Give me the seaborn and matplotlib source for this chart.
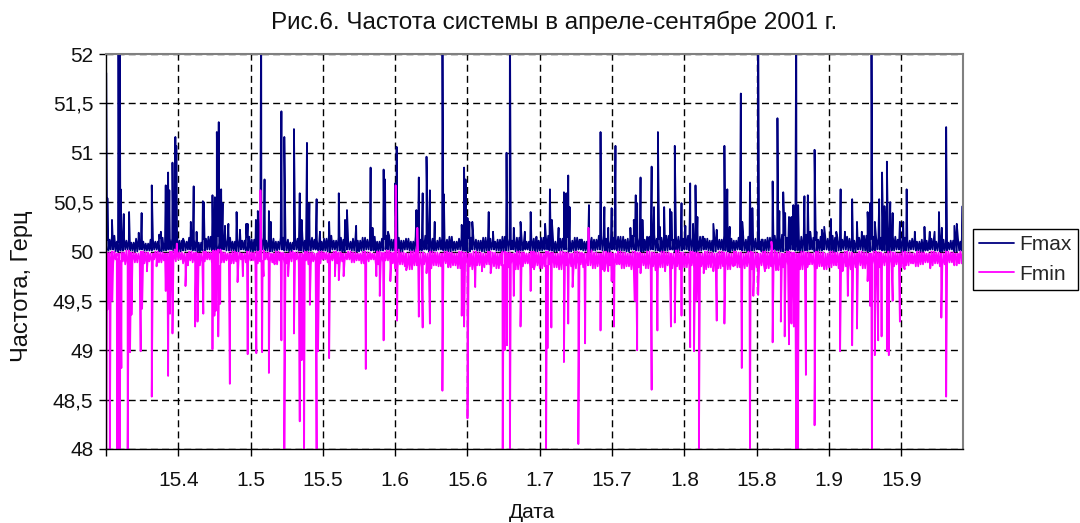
import numpy as np
import pandas as pd
import matplotlib
matplotlib.use("Agg")
import matplotlib.pyplot as plt
from matplotlib.lines import Line2D
import seaborn as sns

# ---- data: days counted from the start of the record (31 March 2001) ----
tick_days = [15, 30, 45, 60, 75, 90, 105, 120, 135, 150, 165]
tick_labels = ["15.4", "1.5", "15.5", "1.6", "15.6", "1.7",
               "15.7", "1.8", "15.8", "1.9", "15.9"]
y_ticks = [48, 48.5, 49, 49.5, 50, 50.5, 51, 51.5, 52]
y_tick_labels = ["48", "48,5", "49", "49,5", "50", "50,5", "51", "51,5", "52"]

# daily lower / upper edge of the Fmax band, Hz
fmax_lo = [
    50.01, 50.02, 50.00, 50.01, 50.02, 50.01, 50.00, 50.02, 50.01, 50.01,
    50.02, 50.00, 50.01, 50.02, 50.01, 50.00, 50.01, 50.02, 50.01, 50.00,
    50.01, 50.02, 50.01, 50.00, 50.02, 50.01, 50.01, 50.00, 50.02, 50.01,
    50.00, 50.01, 50.02, 50.01, 50.00, 50.01, 50.02, 50.01, 50.00, 50.02,
    50.01, 50.00, 50.01, 50.02, 50.01, 50.01, 50.00, 50.02, 50.01, 50.00,
    50.02, 50.01, 50.00, 50.01, 50.02, 50.01, 50.00, 50.01, 50.02, 50.01,
    50.01, 50.00, 50.02, 50.01, 50.00, 50.01, 50.02, 50.00, 50.01, 50.02,
    50.01, 50.00, 50.01, 50.02, 50.01, 50.00, 50.02, 50.01, 50.00, 50.01,
    50.02, 50.01, 50.00, 50.01, 50.02, 50.00, 50.01, 50.02, 50.01, 50.00,
    50.01, 50.02, 50.01, 50.00, 50.01, 50.02, 50.00, 50.01, 50.02, 50.01,
    50.00, 50.01, 50.02, 50.01, 50.00, 50.02, 50.01, 50.01, 50.00, 50.02,
    50.01, 50.00, 50.01, 50.02, 50.01, 50.00, 50.01, 50.02, 50.00, 50.01,
    50.02, 50.01, 50.00, 50.01, 50.02, 50.01, 50.00, 50.02, 50.01, 50.00,
    50.01, 50.02, 50.01, 50.00, 50.01, 50.02, 50.00, 50.01, 50.02, 50.01,
    50.00, 50.01, 50.02, 50.01, 50.00, 50.01, 50.02, 50.00, 50.01, 50.02,
    50.01, 50.00, 50.01, 50.02, 50.01, 50.00, 50.02, 50.01, 50.00, 50.01,
    50.02, 50.01, 50.00, 50.01, 50.02, 50.00, 50.01, 50.02, 50.01, 50.00,
    50.01, 50.02, 50.01, 50.00, 50.01, 50.02, 50.00, 50.01,
]
fmax_hi = [
    50.12, 50.16, 50.10, 50.14, 50.11, 50.09, 50.13, 50.10, 50.08, 50.12,
    50.10, 50.14, 50.09, 50.13, 50.16, 50.11, 50.10, 50.14, 50.12, 50.09,
    50.13, 50.15, 50.11, 50.16, 50.12, 50.14, 50.10, 50.13, 50.11, 50.15,
    50.12, 50.16, 50.14, 50.11, 50.13, 50.10, 50.14, 50.12, 50.09, 50.13,
    50.15, 50.11, 50.14, 50.12, 50.10, 50.13, 50.16, 50.11, 50.14, 50.12,
    50.10, 50.13, 50.11, 50.14, 50.12, 50.15, 50.10, 50.13, 50.16, 50.12,
    50.14, 50.11, 50.13, 50.10, 50.15, 50.12, 50.16, 50.13, 50.11, 50.14,
    50.12, 50.15, 50.10, 50.13, 50.16, 50.14, 50.12, 50.11, 50.14, 50.13,
    50.10, 50.12, 50.15, 50.13, 50.11, 50.14, 50.12, 50.10, 50.13, 50.11,
    50.14, 50.16, 50.12, 50.10, 50.13, 50.15, 50.11, 50.14, 50.12, 50.10,
    50.14, 50.12, 50.16, 50.13, 50.11, 50.14, 50.15, 50.12, 50.13, 50.16,
    50.14, 50.12, 50.15, 50.17, 50.13, 50.14, 50.16, 50.12, 50.15, 50.13,
    50.16, 50.14, 50.12, 50.15, 50.13, 50.11, 50.14, 50.12, 50.16, 50.13,
    50.11, 50.14, 50.12, 50.15, 50.13, 50.10, 50.12, 50.14, 50.16, 50.15,
    50.17, 50.14, 50.16, 50.13, 50.15, 50.17, 50.14, 50.12, 50.15, 50.13,
    50.16, 50.14, 50.12, 50.15, 50.13, 50.11, 50.14, 50.16, 50.13, 50.15,
    50.14, 50.16, 50.13, 50.15, 50.12, 50.14, 50.11, 50.13, 50.10, 50.12,
    50.11, 50.13, 50.10, 50.12, 50.09, 50.11, 50.13, 50.10,
]
# daily lower / upper edge of the Fmin band, Hz
fmin_lo = [
    49.91, 49.88, 49.92, 49.90, 49.87, 49.91, 49.89, 49.92, 49.88, 49.90,
    49.92, 49.89, 49.91, 49.87, 49.90, 49.92, 49.88, 49.91, 49.89, 49.86,
    49.90, 49.92, 49.88, 49.85, 49.89, 49.91, 49.88, 49.90, 49.92, 49.89,
    49.91, 49.88, 49.90, 49.92, 49.89, 49.87, 49.91, 49.88, 49.90, 49.92,
    49.89, 49.91, 49.87, 49.90, 49.88, 49.92, 49.89, 49.91, 49.88, 49.90,
    49.92, 49.89, 49.91, 49.88, 49.90, 49.92, 49.87, 49.89, 49.91, 49.88,
    49.83, 49.87, 49.85, 49.82, 49.86, 49.84, 49.87, 49.83, 49.86, 49.85,
    49.88, 49.84, 49.86, 49.83, 49.87, 49.85, 49.82, 49.86, 49.84, 49.87,
    49.85, 49.83, 49.86, 49.84, 49.87, 49.82, 49.85, 49.88, 49.84, 49.86,
    49.83, 49.85, 49.87, 49.84, 49.82, 49.86, 49.85, 49.83, 49.87, 49.84,
    49.86, 49.83, 49.85, 49.82, 49.86, 49.84, 49.87, 49.83, 49.85, 49.82,
    49.84, 49.86, 49.83, 49.85, 49.81, 49.84, 49.86, 49.83, 49.85, 49.82,
    49.84, 49.86, 49.83, 49.85, 49.82, 49.84, 49.87, 49.83, 49.85, 49.82,
    49.86, 49.84, 49.83, 49.85, 49.82, 49.84, 49.86, 49.83, 49.85, 49.81,
    49.84, 49.86, 49.83, 49.85, 49.82, 49.84, 49.87, 49.83, 49.85, 49.82,
    49.84, 49.86, 49.83, 49.85, 49.82, 49.84, 49.86, 49.83, 49.85, 49.87,
    49.84, 49.86, 49.88, 49.85, 49.87, 49.84, 49.86, 49.88, 49.85, 49.87,
    49.89, 49.86, 49.88, 49.85, 49.87, 49.89, 49.86, 49.88,
]
fmin_hi = [
    49.99, 50.00, 49.98, 49.99, 50.01, 49.99, 49.98, 50.00, 49.99, 49.98,
    50.00, 49.99, 49.98, 50.00, 50.02, 49.99, 49.98, 50.00, 49.99, 49.98,
    50.00, 49.99, 50.01, 50.02, 49.99, 49.98, 50.00, 49.99, 49.98, 50.00,
    49.99, 50.00, 50.01, 49.99, 49.98, 50.00, 49.99, 49.98, 50.00, 49.99,
    49.98, 50.00, 49.99, 49.98, 50.00, 49.99, 49.98, 50.00, 49.99, 49.98,
    50.00, 49.99, 49.98, 50.00, 49.99, 49.98, 50.00, 49.99, 50.01, 49.99,
    50.02, 49.99, 49.98, 50.00, 50.01, 49.99, 49.98, 50.00, 49.99, 49.98,
    50.00, 49.99, 49.98, 50.00, 49.99, 49.98, 50.00, 49.99, 49.98, 50.00,
    49.99, 49.98, 50.00, 49.99, 49.98, 50.00, 49.99, 49.98, 50.00, 49.99,
    49.98, 50.00, 49.99, 49.98, 50.00, 49.99, 49.98, 50.00, 49.99, 49.98,
    50.01, 49.99, 49.98, 50.00, 49.99, 49.98, 50.00, 49.99, 49.98, 50.00,
    49.99, 49.98, 50.00, 49.99, 49.98, 50.00, 49.99, 49.98, 50.01, 49.99,
    49.98, 50.00, 49.99, 49.98, 50.00, 49.99, 49.98, 50.00, 49.99, 49.98,
    50.00, 49.99, 49.98, 50.00, 49.99, 49.98, 50.00, 49.99, 50.01, 49.99,
    49.98, 50.00, 49.99, 49.98, 50.00, 49.99, 49.98, 50.00, 49.99, 49.98,
    50.00, 49.99, 49.98, 50.00, 49.99, 49.98, 50.00, 49.99, 49.98, 50.00,
    49.99, 49.98, 50.00, 49.99, 49.98, 50.00, 49.99, 49.98, 50.00, 49.99,
    49.98, 50.00, 49.99, 49.98, 50.00, 49.99, 49.98, 50.00,
]

# individual excursions (day, Hz); values above 52 run off the top of the axis
fmax_events = [
    (0.05, 51.81), (0.3, 50.54), (1.25, 50.32), (2.6, 52.5), (2.85, 52.5),
    (3.05, 50.63), (3.7, 50.38), (4.8, 50.40), (6.8, 50.19), (7.4, 50.39),
    (9.5, 50.67), (11.0, 50.17), (11.4, 50.20), (12.4, 50.67), (12.9, 50.80),
    (13.15, 50.62), (13.8, 50.90), (14.4, 51.16), (14.6, 51.07), (16.0, 50.13),
    (17.6, 50.30), (18.2, 50.66), (18.8, 50.20), (20.1, 50.51), (20.3, 50.50),
    (22.1, 50.57), (22.6, 50.55), (23.0, 51.21), (23.4, 51.31), (23.9, 50.63),
    (24.2, 50.49), (24.7, 50.26), (25.4, 50.28), (27.1, 50.40), (27.8, 50.22),
    (29.1, 50.28), (29.4, 50.28), (31.1, 50.32), (31.5, 50.41), (32.2, 52.5),
    (32.9, 50.73), (33.8, 50.41), (34.2, 50.30), (36.4, 51.42), (37.0, 51.16),
    (39.0, 51.24), (40.2, 50.59), (40.6, 50.32), (41.7, 51.10), (42.2, 50.49),
    (43.7, 50.53), (44.4, 50.20), (46.3, 50.30), (48.3, 50.59), (49.6, 50.32),
    (50.0, 50.42), (51.9, 50.26), (54.9, 50.85), (55.3, 50.24), (57.6, 50.83),
    (57.9, 50.73), (58.5, 50.20), (60.0, 50.69), (60.3, 51.06), (64.4, 50.42),
    (64.9, 50.75), (65.7, 50.59), (66.5, 50.96), (67.2, 50.62), (68.2, 50.30),
    (69.8, 52.5), (70.1, 50.58), (73.8, 50.27), (74.3, 50.85), (74.6, 50.73),
    (75.0, 50.34), (75.4, 50.30), (76.0, 50.30), (79.4, 50.40), (80.3, 50.20),
    (83.1, 51.00), (83.8, 52.5), (84.6, 50.24), (86.0, 50.30), (86.9, 50.20),
    (88.1, 50.40), (89.3, 50.15), (91.1, 50.28), (92.1, 50.63), (92.5, 50.32),
    (93.9, 50.24), (95.0, 50.60), (95.5, 50.59), (95.9, 50.77), (96.2, 50.45),
    (98.5, 50.12), (100.2, 50.47), (102.6, 51.21), (103.4, 50.45), (104.2, 50.24),
    (104.9, 50.44), (105.7, 51.07), (107.3, 50.15), (108.8, 50.24), (109.5, 50.32),
    (109.9, 50.57), (110.2, 50.49), (110.9, 50.75), (111.3, 50.32), (112.5, 50.12),
    (113.2, 50.86), (113.7, 50.45), (114.5, 51.21), (114.9, 50.25), (115.8, 50.45),
    (117.0, 50.43), (117.3, 50.40), (118.0, 51.07), (119.4, 50.49), (120.2, 50.26),
    (121.2, 50.69), (121.8, 50.28), (122.3, 50.67), (122.7, 50.35), (123.9, 50.15),
    (126.0, 50.28), (126.7, 50.22), (128.3, 51.07), (128.9, 50.63), (129.4, 50.25),
    (131.7, 51.60), (132.0, 50.30), (133.6, 50.70), (134.1, 50.44), (135.3, 52.5),
    (136.0, 50.12), (138.3, 50.71), (139.3, 51.35), (139.7, 50.41), (140.5, 50.60),
    (140.9, 50.39), (141.7, 50.35), (142.2, 50.35), (142.6, 50.47), (143.2, 52.5),
    (143.6, 50.47), (144.9, 50.56), (145.6, 50.57), (146.1, 50.20), (147.0, 51.03),
    (147.4, 50.20), (148.5, 50.22), (149.0, 50.25), (150.4, 50.33), (151.5, 50.20),
    (152.4, 50.63), (153.3, 50.20), (154.8, 50.53), (155.8, 50.30), (156.8, 50.20),
    (158.0, 50.40), (158.5, 50.49), (158.8, 52.5), (159.5, 50.30), (160.4, 50.53),
    (161.0, 50.80), (161.5, 50.46), (162.0, 50.91), (162.7, 50.50), (163.2, 50.39),
    (164.7, 50.30), (165.4, 50.30), (166.1, 50.63), (167.8, 50.20), (169.8, 50.25),
    (170.9, 50.20), (171.9, 50.20), (172.8, 50.40), (173.4, 50.24), (174.3, 51.26),
    (176.0, 50.26), (176.5, 50.28), (177.7, 50.46),
]
# values below 48 run off the bottom of the axis
fmin_events = [
    (0.05, 47.9), (0.3, 49.41), (0.8, 47.9), (1.3, 49.50), (2.3, 47.9),
    (2.6, 47.9), (2.9, 47.9), (3.2, 48.82), (4.5, 47.9), (5.0, 48.98),
    (5.3, 49.36), (7.2, 48.99), (7.5, 49.42), (8.5, 49.80), (9.5, 48.53),
    (10.5, 49.85), (12.4, 49.60), (12.9, 48.74), (13.3, 49.37), (13.8, 49.17),
    (14.7, 50.08), (16.5, 49.65), (17.0, 49.86), (18.5, 49.24), (19.0, 49.29),
    (20.2, 49.37), (22.1, 49.01), (22.5, 49.35), (22.8, 49.40), (23.3, 49.14),
    (23.7, 49.47), (25.7, 48.66), (27.3, 49.69), (28.4, 49.75), (29.4, 48.96),
    (31.2, 48.97), (32.05, 50.62), (32.4, 48.98), (32.7, 49.75), (33.8, 48.77),
    (34.8, 49.90), (36.4, 49.10), (37.0, 47.9), (37.8, 49.75), (39.0, 49.17),
    (40.2, 48.28), (40.6, 48.90), (41.1, 47.9), (42.3, 49.46), (43.7, 47.9),
    (44.0, 48.99), (46.3, 48.92), (47.5, 49.75), (48.3, 49.71), (49.3, 49.75),
    (53.9, 48.81), (56.1, 49.75), (56.8, 49.55), (57.6, 49.10), (59.0, 49.70),
    (60.1, 50.67), (60.4, 49.30), (62.3, 49.81), (64.6, 50.24), (64.9, 49.34),
    (65.7, 49.23), (66.5, 49.78), (67.2, 49.27), (69.8, 48.59), (71.2, 49.90),
    (73.8, 49.35), (74.3, 49.24), (75.0, 48.31), (76.6, 49.64), (78.0, 49.80),
    (79.8, 49.78), (82.3, 47.9), (82.7, 49.00), (83.2, 49.05), (83.8, 47.9),
    (84.6, 49.55), (86.0, 49.24), (88.1, 49.60), (88.8, 49.82), (91.3, 47.9),
    (91.6, 49.02), (92.4, 49.23), (95.0, 48.88), (95.9, 49.27), (96.8, 49.64),
    (98.0, 48.05), (99.4, 49.07), (100.1, 50.24), (102.6, 49.20), (103.4, 49.80),
    (104.2, 49.80), (104.9, 49.70), (105.4, 49.24), (106.4, 49.90), (109.7, 49.50),
    (110.2, 49.00), (110.9, 49.78), (113.2, 48.60), (114.4, 49.20), (116.0, 49.80),
    (117.2, 49.24), (118.0, 49.28), (119.4, 49.35), (121.2, 49.03), (122.0, 48.99),
    (122.5, 49.50), (123.0, 47.9), (124.0, 49.78), (126.0, 49.80), (126.7, 49.30),
    (128.3, 49.27), (130.2, 49.85), (131.9, 48.82), (133.6, 47.9), (134.3, 49.55),
    (135.3, 49.56), (136.7, 49.80), (138.05, 50.10), (138.3, 49.08), (139.3, 49.85),
    (140.0, 49.29), (140.8, 49.14), (141.7, 49.06), (142.2, 49.27), (142.7, 49.24),
    (143.2, 47.9), (143.5, 47.9), (145.2, 48.75), (145.7, 49.88), (147.0, 48.24),
    (148.8, 49.90), (151.5, 49.88), (152.3, 48.99), (152.8, 49.80), (153.9, 49.55),
    (154.8, 49.05), (155.8, 49.22), (158.0, 49.70), (158.5, 49.45), (158.9, 47.9),
    (159.5, 48.95), (160.2, 49.10), (160.9, 49.14), (162.0, 48.99), (162.4, 48.95),
    (163.2, 49.50), (164.7, 49.29), (165.7, 49.82), (167.4, 49.88), (171.0, 49.83),
    (173.3, 49.33), (174.3, 48.53), (176.0, 49.93), (177.0, 49.93),
]

series_colors = {"Fmax": "#000080", "Fmin": "#FF00FF"}


def assemble(name, lo, hi, events):
    """Merge the daily band edges and the excursions into one time-ordered series.

    Each day's band is traced twice (low, high, low, high) so that the
    quarter-day readings fill the band as a dense trace."""
    xs, ys = [], []
    for d, (a, b) in enumerate(zip(lo, hi)):
        xs += [d, d + 0.25, d + 0.5, d + 0.75]
        ys += [a, b, a, b]
    for d, v in events:
        xs.append(d)
        ys.append(v)
    order = np.argsort(xs, kind="stable")
    return pd.DataFrame({"day": np.asarray(xs)[order],
                         "freq": np.asarray(ys)[order],
                         "series": name})


df = pd.concat([assemble("Fmax", fmax_lo, fmax_hi, fmax_events),
                assemble("Fmin", fmin_lo, fmin_hi, fmin_events)],
               ignore_index=True)

sns.set_theme(style="white")
plt.rcParams["font.family"] = ["Liberation Sans", "DejaVu Sans"]

fig, ax = plt.subplots(figsize=(10.8, 5.23), dpi=100)
fig.subplots_adjust(left=0.0981, right=0.8917, top=0.8967, bottom=0.1415)

sns.lineplot(data=df, x="day", y="freq", hue="series", palette=series_colors,
             estimator=None, sort=False, linewidth=1.3, ax=ax, legend=False)

ax.set_xlim(0, 177.8)
ax.set_ylim(48, 52)
ax.set_xticks(tick_days)
ax.set_xticklabels(tick_labels)
ax.set_xticks([0], minor=True)
ax.set_yticks(y_ticks)
ax.set_yticklabels(y_tick_labels)

ax.grid(True, which="major", color="black", linestyle=(0, (5, 3)), linewidth=1.0)
ax.set_axisbelow(True)
ax.tick_params(axis="both", which="both", direction="out", length=5, width=1,
               color="black", labelsize=15, labelcolor="#111111",
               bottom=True, left=True)
ax.tick_params(axis="x", which="major", pad=11)
ax.tick_params(axis="y", pad=4)

for side in ("left", "bottom"):
    ax.spines[side].set_color("black")
    ax.spines[side].set_linewidth(1.0)
for side in ("top", "right"):
    ax.spines[side].set_color("#808080")
    ax.spines[side].set_linewidth(1.5)

ax.set_xlabel("")
ax.set_ylabel("")
fig.text(554 / 1080, 1 - 22 / 523, "Рис.6. Частота системы в апреле-сентябре 2001 г.",
         ha="center", va="center", fontsize=17.5, color="#111111")
fig.text(22 / 1080, 1 - 286 / 523, "Частота, Герц", rotation=90,
         ha="center", va="center", fontsize=17, color="#111111")
fig.text(532 / 1080, 1 - 512 / 523, "Дата", ha="center", va="center",
         fontsize=15, color="#111111")

handles = [Line2D([], [], color=series_colors[k], linewidth=1.3) for k in series_colors]
leg = fig.legend(handles, list(series_colors), loc="center left",
                 bbox_to_anchor=(0.9005, 0.504), frameon=True, fancybox=False,
                 edgecolor="black", framealpha=1, fontsize=15,
                 handlelength=1.7, handletextpad=0.25, borderpad=0.3,
                 labelspacing=0.5, borderaxespad=0)
leg.get_frame().set_linewidth(1.0)

fig.savefig("out.png", dpi=100)
